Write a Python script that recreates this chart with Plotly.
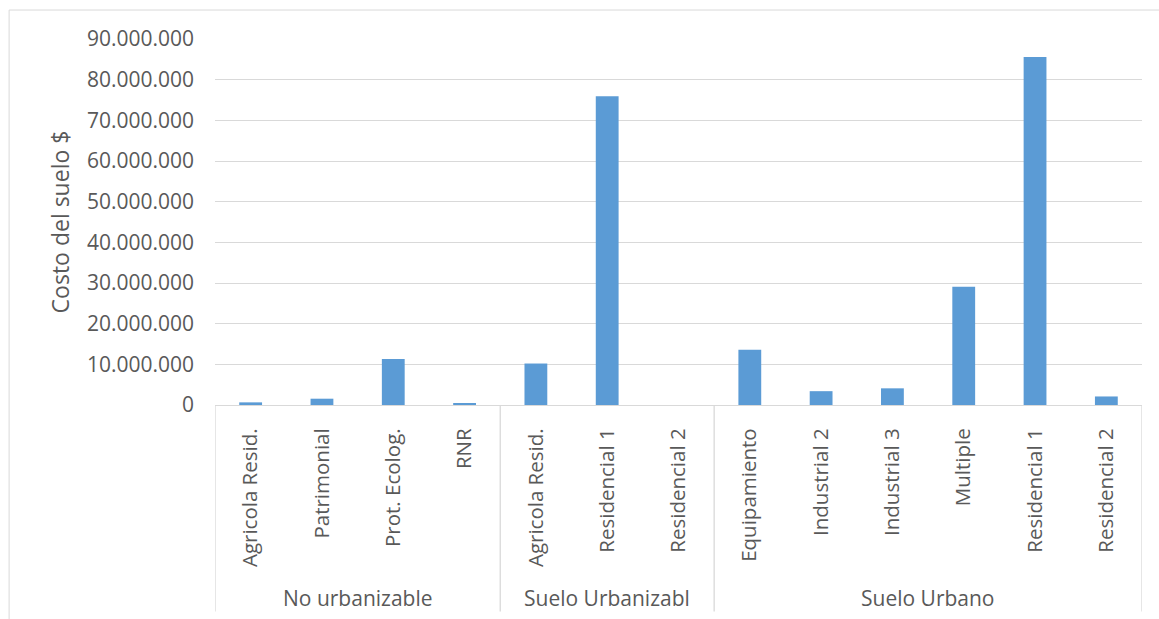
import plotly.graph_objects as go

# Land cost by zone type and land-use class
groups = ["No urbanizable", "Suelo Urbanizabl", "Suelo Urbano"]
group_sizes = [4, 3, 6]
categories = [
    "Agricola Resid.", "Patrimonial", "Prot. Ecolog.", "RNR",
    "Agricola Resid.", "Residencial 1", "Residencial 2",
    "Equipamiento", "Industrial 2", "Industrial 3", "Multiple", "Residencial 1", "Residencial 2",
]
costs = [
    650000, 1550000, 11300000, 300000,
    10200000, 75900000, 0,
    13600000, 3400000, 4100000, 29100000, 85600000, 2100000,
]
y_ticks = [0, 10000000, 20000000, 30000000, 40000000, 50000000,
           60000000, 70000000, 80000000, 90000000]

W, H = 1159, 619
left, right, top, bottom = 214.5, 1142.0, 39.0, 405.3
plot_h = bottom - top
plot_w = right - left

grey_text = "#595959"
grid = "#d9d9d9"
font_family = "Open Sans"

xpos = list(range(len(categories)))

fig = go.Figure(
    go.Bar(
        x=xpos,
        y=costs,
        marker=dict(color="#5b9bd5", line=dict(width=0)),
        width=0.32,
        hoverinfo="y",
    )
)

def py(pixel_y):
    return (bottom - pixel_y) / plot_h

def px(pixel_x):
    return (pixel_x - left) / plot_w

shapes = []
# chart frame
shapes.append(dict(type="rect", xref="paper", yref="paper",
                   x0=px(8.5), x1=px(W + 20), y0=py(10), y1=py(H + 20),
                   line=dict(color=grid, width=1), layer="below"))
# group dividers under the category axis
edges = [-0.5]
for n in group_sizes:
    edges.append(edges[-1] + n)
for e in edges:
    shapes.append(dict(type="line", xref="x", yref="paper",
                       x0=e, x1=e, y0=0, y1=py(612),
                       line=dict(color=grid, width=1.3)))

annotations = []
start = -0.5
for g, n in zip(groups, group_sizes):
    annotations.append(dict(
        x=start + n / 2, y=py(598), xref="x", yref="paper",
        text=g, showarrow=False, xanchor="center", yanchor="middle",
        font=dict(family=font_family, size=21, color=grey_text),
    ))
    start += n

fig.update_layout(
    width=W, height=H,
    margin=dict(l=left, r=W - right, t=top, b=H - bottom, pad=0),
    paper_bgcolor="white", plot_bgcolor="white",
    separators=",.",
    showlegend=False,
    shapes=shapes,
    annotations=annotations,
    xaxis=dict(
        range=[-0.5, len(categories) - 0.5],
        tickmode="array", tickvals=xpos, ticktext=categories,
        tickangle=-90, ticks="", showgrid=False, zeroline=False,
        showline=True, linecolor=grid, linewidth=1.3,
        ticklabelstandoff=14,
        tickfont=dict(family=font_family, size=20.5, color=grey_text),
    ),
    yaxis=dict(
        range=[0, 90000000],
        tickmode="array", tickvals=y_ticks, tickformat=",.0f",
        showgrid=True, gridcolor=grid, gridwidth=1.3,
        zeroline=False, showline=False, ticks="",
        ticklabelstandoff=20,
        tickfont=dict(family=font_family, size=21, color=grey_text),
        title=dict(text="Costo del suelo $", standoff=10,
                   font=dict(family=font_family, size=23, color=grey_text)),
    ),
)

fig.write_html("out.html")
